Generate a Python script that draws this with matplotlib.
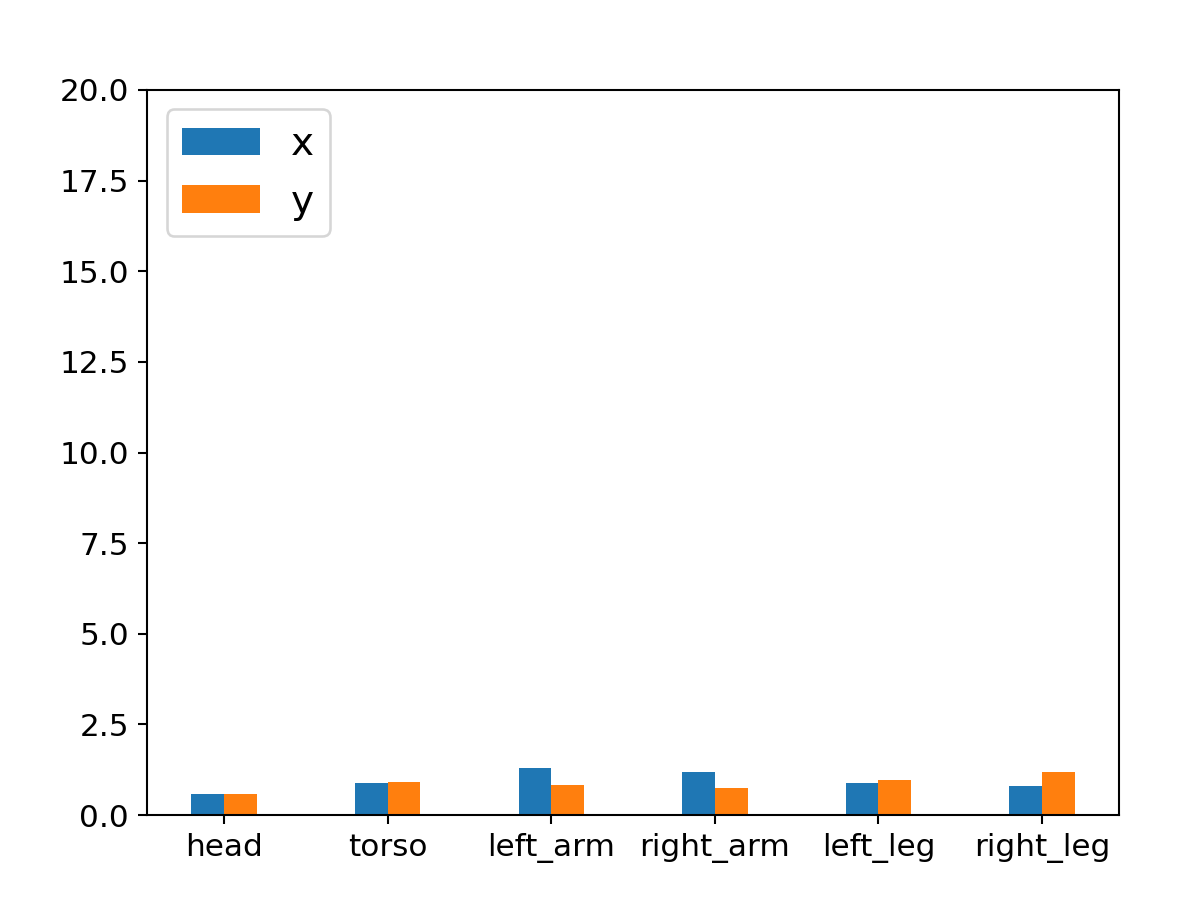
import numpy as np
import matplotlib
matplotlib.use("Agg")
import matplotlib.pyplot as plt

# данные
parts = ["head", "torso", "left_arm", "right_arm", "left_leg", "right_leg"]
x_vals = [0.58, 0.87, 1.30, 1.18, 0.87, 0.79]
y_vals = [0.58, 0.91, 0.83, 0.74, 0.97, 1.18]

dpi = 187
fig = plt.figure(figsize=(1196 / dpi, 906 / dpi), dpi=dpi)
ax = fig.add_axes([0.123, 0.1004, 0.8126, 0.8003])

pos = np.arange(len(parts))
w = 0.2
ax.bar(pos - w / 2, x_vals, w, label="x", color="#1f77b4")
ax.bar(pos + w / 2, y_vals, w, label="y", color="#ff7f0e")

ax.set_xticks(pos)
ax.set_xticklabels(parts)
ax.tick_params(labelsize=12)
ax.set_ylim(0, 20)
ax.legend(loc="upper left", fontsize=15)

fig.savefig("out.png", dpi=dpi)
